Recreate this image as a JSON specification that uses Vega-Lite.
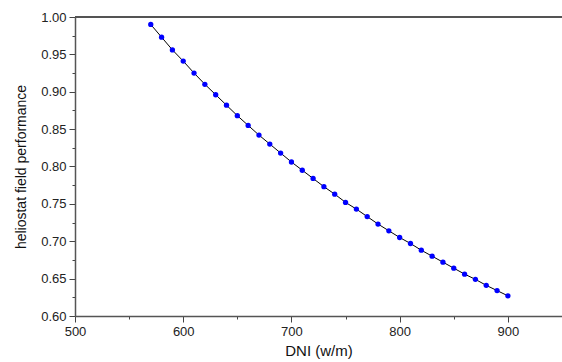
{
  "$schema": "https://vega.github.io/schema/vega-lite/v6.json",
  "width": 487,
  "height": 299,
  "autosize": "none",
  "padding": {"left": 75, "top": 17, "right": 0, "bottom": 46},
  "background": "white",
  "config": {
    "view": {"stroke": null},
    "font": "Liberation Sans",
    "axis": {
      "labelFont": "Liberation Sans",
      "titleFont": "Liberation Sans",
      "labelColor": "#222",
      "titleColor": "#111",
      "titleFontWeight": "normal",
      "domainColor": "#555",
      "domainWidth": 1.5,
      "tickColor": "#444",
      "tickWidth": 1,
      "grid": false,
      "labelOverlap": false,
      "labelFlush": false
    }
  },
  "data": {
    "values": [
      {"DNI": 570, "perf": 0.990},
      {"DNI": 580, "perf": 0.973},
      {"DNI": 590, "perf": 0.956},
      {"DNI": 600, "perf": 0.941},
      {"DNI": 610, "perf": 0.925},
      {"DNI": 620, "perf": 0.910},
      {"DNI": 630, "perf": 0.896},
      {"DNI": 640, "perf": 0.882},
      {"DNI": 650, "perf": 0.868},
      {"DNI": 660, "perf": 0.855},
      {"DNI": 670, "perf": 0.842},
      {"DNI": 680, "perf": 0.830},
      {"DNI": 690, "perf": 0.818},
      {"DNI": 700, "perf": 0.806},
      {"DNI": 710, "perf": 0.795},
      {"DNI": 720, "perf": 0.784},
      {"DNI": 730, "perf": 0.773},
      {"DNI": 740, "perf": 0.763},
      {"DNI": 750, "perf": 0.752},
      {"DNI": 760, "perf": 0.743},
      {"DNI": 770, "perf": 0.733},
      {"DNI": 780, "perf": 0.723},
      {"DNI": 790, "perf": 0.714},
      {"DNI": 800, "perf": 0.705},
      {"DNI": 810, "perf": 0.697},
      {"DNI": 820, "perf": 0.688},
      {"DNI": 830, "perf": 0.680},
      {"DNI": 840, "perf": 0.672},
      {"DNI": 850, "perf": 0.664},
      {"DNI": 860, "perf": 0.656},
      {"DNI": 870, "perf": 0.649},
      {"DNI": 880, "perf": 0.641},
      {"DNI": 890, "perf": 0.634},
      {"DNI": 900, "perf": 0.627}
    ]
  },
  "encoding": {
    "x": {
      "field": "DNI",
      "type": "quantitative",
      "scale": {"domain": [500, 950], "nice": false, "zero": false},
      "axis": {
        "title": "DNI (w/m)",
        "titleFontSize": 15,
        "titlePadding": 5,
        "labelFontSize": 13,
        "labelPadding": 3,
        "values": [500, 550, 600, 650, 700, 750, 800, 850, 900],
        "labelExpr": "datum.value % 100 === 0 ? datum.label : ''",
        "tickSize": {"condition": {"test": "datum.value % 100 === 0", "value": 6}, "value": 3}
      }
    },
    "y": {
      "field": "perf",
      "type": "quantitative",
      "scale": {"domain": [0.6, 1.0], "nice": false, "zero": false},
      "axis": {
        "title": "heliostat field performance",
        "titleFontSize": 14,
        "titlePadding": 12,
        "labelFontSize": 13,
        "labelPadding": 3,
        "format": ".2f",
        "values": [0.6, 0.625, 0.65, 0.675, 0.7, 0.725, 0.75, 0.775, 0.8, 0.825, 0.85, 0.875, 0.9, 0.925, 0.95, 0.975, 1.0],
        "labelExpr": "round(datum.value * 1000) % 50 === 0 ? datum.label : ''",
        "tickSize": {"condition": {"test": "round(datum.value * 1000) % 50 === 0", "value": 6}, "value": 3}
      }
    }
  },
  "layer": [
    {
      "mark": {"type": "rule", "color": "#555", "strokeWidth": 1.5},
      "encoding": {"y": {"datum": 1.0}, "x": {"datum": 500}, "x2": {"datum": 950}}
    },
    {
      "mark": {"type": "line", "color": "black", "strokeWidth": 1}
    },
    {
      "mark": {"type": "point", "filled": true, "color": "#0000ff", "size": 28, "opacity": 1}
    }
  ]
}
